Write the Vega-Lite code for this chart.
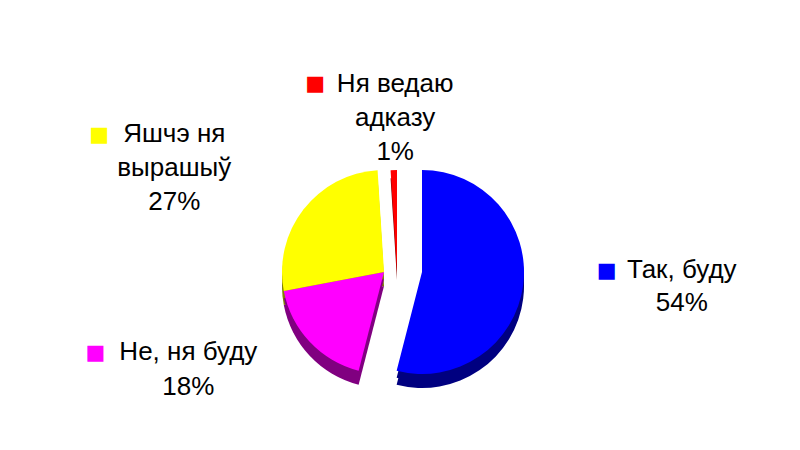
{
  "$schema": "https://vega.github.io/schema/vega-lite/v6.json",
  "width": 800,
  "height": 356,
  "autosize": {"type": "none"},
  "padding": {"top": 94, "left": 0, "right": 0, "bottom": 0},
  "background": "white",
  "config": {"view": {"stroke": null}, "text": {"font": "Liberation Sans"}},
  "data": {"values": [
    {"cat": "Так, буду", "label": "Так, буду\n54%", "pct": 54, "ord": 1},
    {"cat": "Не, ня буду", "label": "Не, ня буду\n18%", "pct": 18, "ord": 2},
    {"cat": "Яшчэ ня вырашыў", "label": "Яшчэ ня\nвырашыў\n27%", "pct": 27, "ord": 3},
    {"cat": "Ня ведаю адказу", "label": "Ня ведаю\nадказу\n1%", "pct": 1, "ord": 4}
  ]},
  "encoding": {
    "theta": {"field": "pct", "type": "quantitative", "stack": true},
    "order": {"field": "ord", "type": "quantitative"}
  },
  "layer": [
    {"mark": {"type": "arc", "outerRadius": 102, "xOffset": 22, "yOffset": 14},
     "encoding": {"color": {"field": "cat", "type": "nominal", "legend": null, "scale": {"domain": ["Так, буду", "Не, ня буду", "Яшчэ ня вырашыў", "Ня ведаю адказу"], "range": ["#000080", "#800080", "#808000", "#800000"]}},
       "opacity": {"condition": {"test": "datum.cat==='Так, буду'", "value": 1}, "value": 0}}},
    {"mark": {"type": "arc", "outerRadius": 102, "xOffset": 22, "yOffset": 7},
     "encoding": {"color": {"field": "cat", "type": "nominal", "legend": null, "scale": {"domain": ["Так, буду", "Не, ня буду", "Яшчэ ня вырашыў", "Ня ведаю адказу"], "range": ["#000080", "#800080", "#808000", "#800000"]}},
       "opacity": {"condition": {"test": "datum.cat==='Так, буду'", "value": 1}, "value": 0}}},
    {"mark": {"type": "arc", "outerRadius": 102, "xOffset": -16, "yOffset": 14},
     "encoding": {"color": {"field": "cat", "type": "nominal", "legend": null, "scale": {"domain": ["Так, буду", "Не, ня буду", "Яшчэ ня вырашыў", "Ня ведаю адказу"], "range": ["#000080", "#800080", "#808000", "#800000"]}},
       "opacity": {"condition": {"test": "datum.cat==='Не, ня буду' || datum.cat==='Яшчэ ня вырашыў'", "value": 1}, "value": 0}}},
    {"mark": {"type": "arc", "outerRadius": 102, "xOffset": -16, "yOffset": 7},
     "encoding": {"color": {"field": "cat", "type": "nominal", "legend": null, "scale": {"domain": ["Так, буду", "Не, ня буду", "Яшчэ ня вырашыў", "Ня ведаю адказу"], "range": ["#000080", "#800080", "#808000", "#800000"]}},
       "opacity": {"condition": {"test": "datum.cat==='Не, ня буду' || datum.cat==='Яшчэ ня вырашыў'", "value": 1}, "value": 0}}},
    {"mark": {"type": "arc", "outerRadius": 102, "xOffset": -3, "yOffset": 8},
     "encoding": {"color": {"field": "cat", "type": "nominal", "legend": null, "scale": {"domain": ["Так, буду", "Не, ня буду", "Яшчэ ня вырашыў", "Ня ведаю адказу"], "range": ["#000080", "#800080", "#808000", "#800000"]}},
       "opacity": {"condition": {"test": "datum.cat==='Ня ведаю адказу'", "value": 1}, "value": 0}}},
    {"mark": {"type": "arc", "outerRadius": 102, "xOffset": 22, "yOffset": 0},
     "encoding": {"color": {"field": "cat", "type": "nominal", "legend": null, "scale": {"domain": ["Так, буду", "Не, ня буду", "Яшчэ ня вырашыў", "Ня ведаю адказу"], "range": ["#0000FF", "#FF00FF", "#FFFF00", "#FF0000"]}},
       "opacity": {"condition": {"test": "datum.cat==='Так, буду'", "value": 1}, "value": 0}}},
    {"mark": {"type": "arc", "outerRadius": 102, "xOffset": -16, "yOffset": 0},
     "encoding": {"color": {"field": "cat", "type": "nominal", "legend": null, "scale": {"domain": ["Так, буду", "Не, ня буду", "Яшчэ ня вырашыў", "Ня ведаю адказу"], "range": ["#0000FF", "#FF00FF", "#FFFF00", "#FF0000"]}},
       "opacity": {"condition": {"test": "datum.cat==='Не, ня буду' || datum.cat==='Яшчэ ня вырашыў'", "value": 1}, "value": 0}}},
    {"mark": {"type": "arc", "outerRadius": 102, "xOffset": -3, "yOffset": 0},
     "encoding": {"color": {"field": "cat", "type": "nominal", "legend": null, "scale": {"domain": ["Так, буду", "Не, ня буду", "Яшчэ ня вырашыў", "Ня ведаю адказу"], "range": ["#0000FF", "#FF00FF", "#FFFF00", "#FF0000"]}},
       "opacity": {"condition": {"test": "datum.cat==='Ня ведаю адказу'", "value": 1}, "value": 0}}},
    {"mark": {"type": "text", "radius": 154, "dx": 0, "dy": -34, "fontSize": 26, "lineBreak": "\n", "lineHeight": 34, "align": "center", "baseline": "middle", "fill": "#000000"},
     "encoding": {"text": {"condition": {"test": "datum.cat==='Ня ведаю адказу'", "field": "label", "type": "nominal"}, "value": ""}}},
    {"mark": {"type": "text", "radius": 230, "dx": -44, "dy": 3, "fontSize": 26, "lineBreak": "\n", "lineHeight": 34, "align": "center", "baseline": "middle", "fill": "#000000"},
     "encoding": {"text": {"condition": {"test": "datum.cat==='Яшчэ ня вырашыў'", "field": "label", "type": "nominal"}, "value": ""}}},
    {"mark": {"type": "text", "radius": 284, "dx": 0, "dy": -38, "fontSize": 26, "lineBreak": "\n", "lineHeight": 33, "align": "center", "baseline": "middle", "fill": "#000000"},
     "encoding": {"text": {"condition": {"test": "datum.cat==='Так, буду'", "field": "label", "type": "nominal"}, "value": ""}}},
    {"mark": {"type": "text", "radius": 230, "dx": -44, "dy": -77, "fontSize": 26, "lineBreak": "\n", "lineHeight": 35, "align": "center", "baseline": "middle", "fill": "#000000"},
     "encoding": {"text": {"condition": {"test": "datum.cat==='Не, ня буду'", "field": "label", "type": "nominal"}, "value": ""}}},
    {"mark": {"type": "text", "radius": 154, "dx": -80, "dy": -34, "fontSize": 21, "font": "DejaVu Sans", "align": "center", "baseline": "middle", "fill": "#FF0000"},
     "encoding": {"text": {"condition": {"test": "datum.cat==='Ня ведаю адказу'", "value": "■"}, "value": ""}}},
    {"mark": {"type": "text", "radius": 230, "dx": -119, "dy": 4, "fontSize": 21, "font": "DejaVu Sans", "align": "center", "baseline": "middle", "fill": "#FFFF00"},
     "encoding": {"text": {"condition": {"test": "datum.cat==='Яшчэ ня вырашыў'", "value": "■"}, "value": ""}}},
    {"mark": {"type": "text", "radius": 284, "dx": -75, "dy": -37, "fontSize": 21, "font": "DejaVu Sans", "align": "center", "baseline": "middle", "fill": "#0000FF"},
     "encoding": {"text": {"condition": {"test": "datum.cat==='Так, буду'", "value": "■"}, "value": ""}}},
    {"mark": {"type": "text", "radius": 230, "dx": -137, "dy": -76, "fontSize": 21, "font": "DejaVu Sans", "align": "center", "baseline": "middle", "fill": "#FF00FF"},
     "encoding": {"text": {"condition": {"test": "datum.cat==='Не, ня буду'", "value": "■"}, "value": ""}}}
  ],
  "resolve": {"scale": {"color": "independent"}}
}
